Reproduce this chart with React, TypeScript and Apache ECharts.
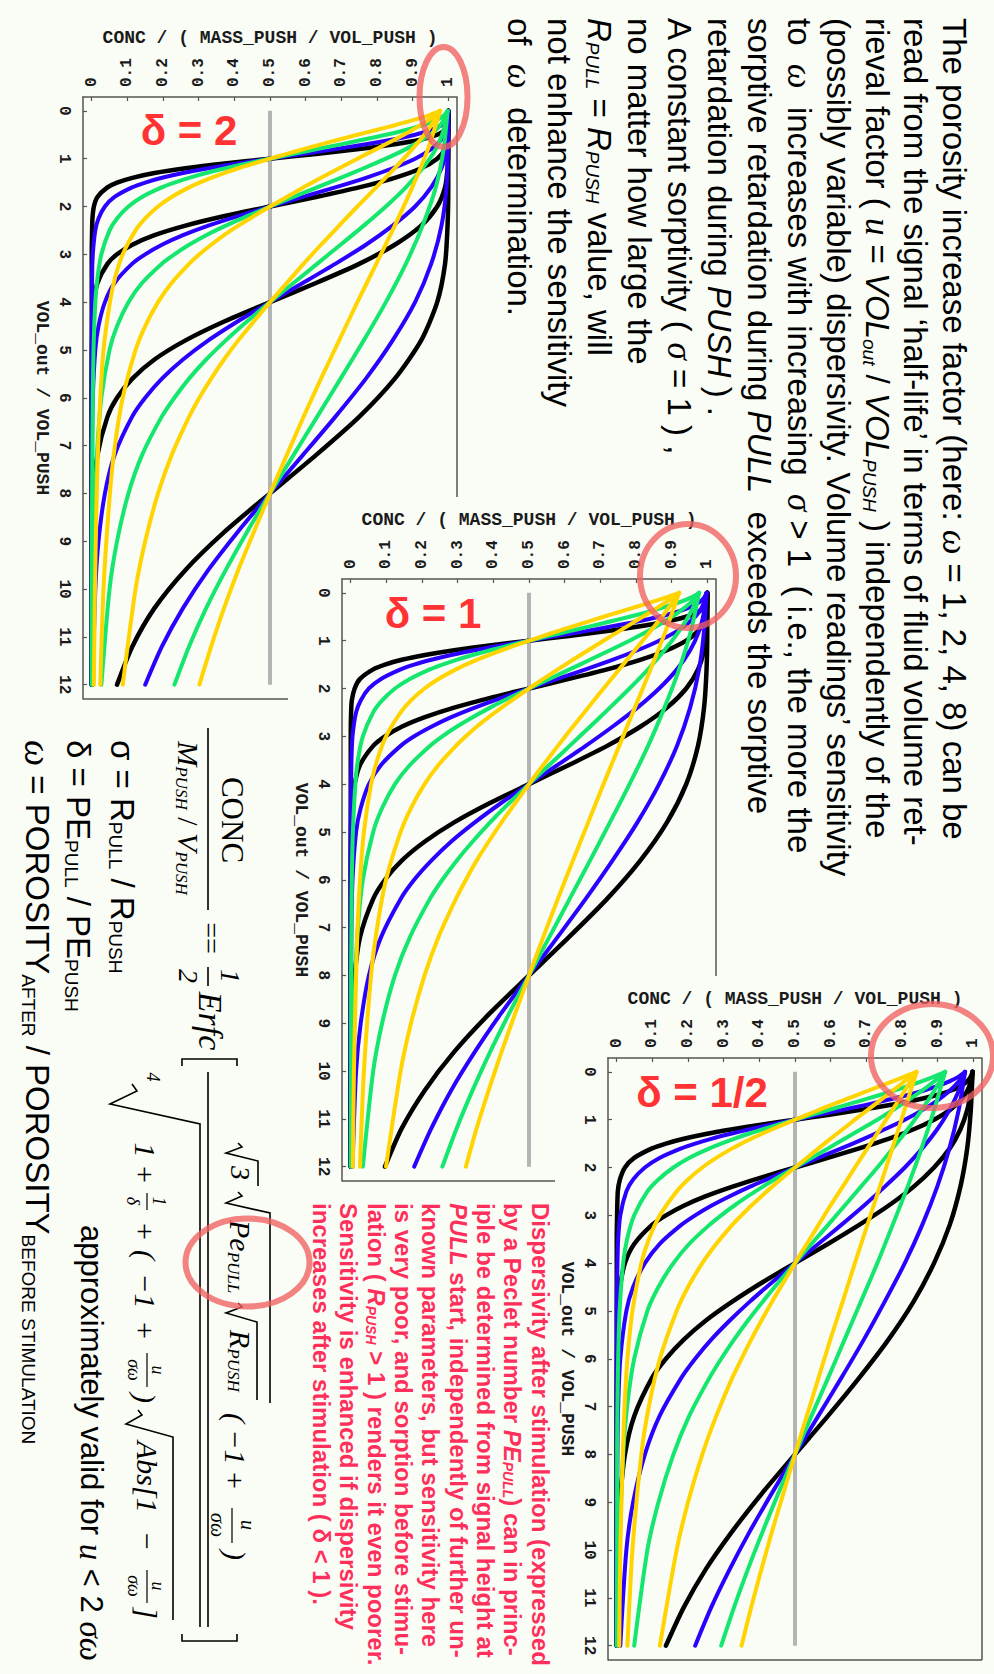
import React, { useEffect, useRef } from 'react';
import * as echarts from 'echarts';

const SANS = "'Liberation Sans', Arial, sans-serif";
const SERIF = "'Liberation Serif', 'Times New Roman', serif";
const MONO = "'Liberation Mono', 'Courier New', monospace";
const BG = '#fafcf6';
const RED = '#ff2f5b';

// ---------- tick labels ----------
const CONC_TICKS = [0, 0.1, 0.2, 0.3, 0.4, 0.5, 0.6, 0.7, 0.8, 0.9, 1];
const VOL_TICKS = [0, 1, 2, 3, 4, 5, 6, 7, 8, 9, 10, 11, 12];

// ---------- VOL_out / VOL_PUSH sample positions of each omega family (omega = 1, 2, 4, 8) ----------
const U_W1 = [0, 0.1, 0.2, 0.3, 0.4, 0.5, 0.6, 0.7, 0.8, 0.9, 1, 1.1, 1.2, 1.3, 1.4, 1.5, 1.6, 1.8, 2, 2.25, 2.5, 3, 3.5, 4, 5, 6, 7, 8, 10, 12];
const U_W2 = [0, 0.2, 0.4, 0.6, 0.8, 1, 1.2, 1.4, 1.6, 1.8, 2, 2.2, 2.4, 2.6, 2.8, 3, 3.2, 3.6, 4, 4.5, 5, 6, 7, 8, 10, 12];
const U_W4 = [0, 0.4, 0.8, 1.2, 1.6, 2, 2.4, 2.8, 3.2, 3.6, 4, 4.4, 4.8, 5.2, 5.6, 6, 6.4, 7.2, 8, 9, 10, 12];
const U_W8 = [0, 0.8, 1.6, 2.4, 3.2, 4, 4.8, 5.6, 6.4, 7.2, 8, 8.8, 9.6, 10.4, 11.2, 12];

// ---------- CONC / (MASS_PUSH / VOL_PUSH) read along each family's samples ----------
// delta = 2
const D2_BLACK = [1.000, 1.000, 1.000, 0.998, 0.991, 0.969, 0.924, 0.850, 0.750, 0.629, 0.500, 0.373, 0.263, 0.176, 0.114, 0.071, 0.044, 0.016, 0.006, 0.002, 0.001, 0, 0, 0, 0, 0, 0, 0, 0, 0];
const D2_BLUE = [1.000, 0.999, 0.995, 0.981, 0.952, 0.907, 0.844, 0.769, 0.683, 0.592, 0.500, 0.410, 0.327, 0.256, 0.197, 0.150, 0.113, 0.064, 0.037, 0.019, 0.010, 0.003, 0.001, 0.001, 0, 0, 0, 0, 0, 0];
const D2_GREEN = [0.998, 0.987, 0.965, 0.928, 0.881, 0.825, 0.763, 0.698, 0.632, 0.566, 0.500, 0.436, 0.376, 0.321, 0.273, 0.232, 0.196, 0.141, 0.103, 0.071, 0.050, 0.027, 0.016, 0.010, 0.005, 0.003, 0.002, 0.001, 0, 0];
const D2_YELLOW = [0.977, 0.943, 0.899, 0.850, 0.798, 0.745, 0.694, 0.643, 0.594, 0.547, 0.500, 0.455, 0.411, 0.371, 0.335, 0.302, 0.273, 0.224, 0.186, 0.150, 0.123, 0.087, 0.065, 0.051, 0.033, 0.024, 0.018, 0.014, 0.009, 0.006];
// delta = 1
const D1_BLACK = [1.000, 1.000, 0.998, 0.991, 0.974, 0.941, 0.887, 0.812, 0.719, 0.612, 0.500, 0.389, 0.290, 0.208, 0.143, 0.096, 0.063, 0.026, 0.011, 0.003, 0.001, 0, 0, 0, 0, 0, 0, 0, 0, 0];
const D1_BLUE = [0.998, 0.991, 0.977, 0.952, 0.915, 0.865, 0.804, 0.734, 0.659, 0.580, 0.500, 0.421, 0.348, 0.282, 0.226, 0.178, 0.140, 0.085, 0.051, 0.028, 0.015, 0.005, 0.002, 0.001, 0, 0, 0, 0, 0, 0];
const D1_GREEN = [0.977, 0.954, 0.921, 0.880, 0.834, 0.782, 0.727, 0.671, 0.614, 0.557, 0.500, 0.444, 0.391, 0.342, 0.297, 0.257, 0.222, 0.166, 0.124, 0.088, 0.063, 0.034, 0.020, 0.013, 0.006, 0.003, 0.002, 0.001, 0.001, 0];
const D1_YELLOW = [0.921, 0.883, 0.841, 0.797, 0.753, 0.709, 0.666, 0.623, 0.581, 0.540, 0.500, 0.461, 0.423, 0.387, 0.353, 0.323, 0.295, 0.246, 0.207, 0.169, 0.140, 0.099, 0.074, 0.057, 0.037, 0.026, 0.019, 0.015, 0.009, 0.006];
// delta = 1/2
const DH_BLACK = [0.998, 0.993, 0.983, 0.964, 0.934, 0.890, 0.833, 0.762, 0.680, 0.592, 0.500, 0.409, 0.325, 0.250, 0.188, 0.138, 0.099, 0.049, 0.023, 0.009, 0.003, 0.001, 0, 0, 0, 0, 0, 0, 0, 0];
const DH_BLUE = [0.977, 0.959, 0.933, 0.899, 0.857, 0.808, 0.752, 0.693, 0.630, 0.565, 0.500, 0.436, 0.374, 0.317, 0.265, 0.220, 0.181, 0.120, 0.079, 0.046, 0.027, 0.010, 0.004, 0.002, 0, 0, 0, 0, 0, 0];
const DH_GREEN = [0.921, 0.890, 0.855, 0.816, 0.774, 0.731, 0.685, 0.639, 0.593, 0.546, 0.500, 0.454, 0.410, 0.368, 0.329, 0.293, 0.260, 0.203, 0.159, 0.117, 0.086, 0.049, 0.029, 0.018, 0.008, 0.004, 0.002, 0.001, 0.001, 0];
const DH_YELLOW = [0.841, 0.807, 0.773, 0.738, 0.703, 0.668, 0.634, 0.599, 0.566, 0.533, 0.500, 0.468, 0.436, 0.406, 0.377, 0.350, 0.324, 0.279, 0.240, 0.200, 0.168, 0.121, 0.090, 0.069, 0.044, 0.030, 0.022, 0.017, 0.010, 0.007];

const HALF_LINE = [[0.5, 0], [0.5, 12]];

const COLOR_LIST = ['#000000', '#2a00ff', '#14e66e', '#ffd400'];
const FAMILIES = [U_W1, U_W2, U_W4, U_W8];

// ---------- layout ----------
const BOX_W = 374;
const BOX_H = 602;
const PANELS = [
  { left: 83, top: 97, label: 'δ = 2', lx: 189, ly: 130, values: [D2_BLACK, D2_BLUE, D2_GREEN, D2_YELLOW] },
  { left: 342, top: 579, label: 'δ = 1', lx: 433, ly: 613, values: [D1_BLACK, D1_BLUE, D1_GREEN, D1_YELLOW] },
  { left: 608, top: 1058, label: 'δ = 1/2', lx: 702, ly: 1092, values: [DH_BLACK, DH_BLUE, DH_GREEN, DH_YELLOW] },
];

function txt(x: number, y: number, text: string, size: number, o: any = {}) {
  const align = o.align || 'left';
  return {
    type: 'text', x, y, z: 60, silent: true,
    style: {
      text,
      fill: o.fill || '#000',
      fontSize: size,
      fontFamily: o.family || SANS,
      fontStyle: o.italic ? 'italic' : 'normal',
      fontWeight: o.bold ? 'bold' : 'normal',
      align, textAlign: align,
      verticalAlign: 'middle', textVerticalAlign: 'middle',
      rich: o.rich,
    },
  };
}
function seg(x1: number, y1: number, x2: number, y2: number, w = 1.6, color = '#000') {
  return { type: 'line', z: 60, silent: true, shape: { x1, y1, x2, y2 }, style: { stroke: color, lineWidth: w } };
}
function poly(points: number[][], w = 1.6) {
  return { type: 'polyline', z: 60, silent: true, shape: { points }, style: { stroke: '#000', lineWidth: w, fill: null } };
}

function rotatedChildren() {
  const c: any[] = [];
  // paragraph
  const rp = {
    w: { fontFamily: SERIF, fontStyle: 'italic', fontSize: 35, fill: '#000', color: '#000' },
    i: { fontFamily: SANS, fontStyle: 'italic', fontSize: 33, fill: '#000', color: '#000' },
    s: { fontFamily: SANS, fontStyle: 'italic', fontSize: 19, fill: '#000', color: '#000', verticalAlign: 'bottom' },
  };
  const para = [
    'The porosity increase factor (here: {w|ω} = 1, 2, 4, 8) can be',
    'read from the signal ‘half-life’ in terms of fluid volume ret-',
    'rieval factor ( {w|u} = {i|VOL}{s|out} / {i|VOL}{s|PUSH} ) independently of the',
    '(possibly variable) dispersivity. Volume readings’ sensitivity',
    'to  {w|ω}  increases with increasing  {w|σ} > 1  ( i.e., the more the',
    'sorptive retardation during {i|PULL}  exceeds the sorptive',
    'retardation during {i|PUSH} ) .',
    'A constant sorptivity ( {w|σ} = 1 ) ,',
    'no matter how large the',
    '{i|R}{s|PULL} = {i|R}{s|PUSH} value, will',
    'not enhance the sensitivity',
    'of  {w|ω}  determination.',
  ];
  const paraY = [40, 79, 117, 156, 195, 235, 275, 315, 355, 395, 435, 475];
  para.forEach((t, k) => c.push(txt(18, paraY[k], t, 33, { rich: rp })));

  // red note
  const rr = {
    bi: { fontFamily: SANS, fontWeight: 'bold', fontStyle: 'italic', fontSize: 24, fill: RED, color: RED },
    bs: { fontFamily: SANS, fontWeight: 'bold', fontStyle: 'italic', fontSize: 14, fill: RED, color: RED, verticalAlign: 'bottom' },
  };
  const red = [
    'Dispersivity after stimulation (expressed',
    'by a Peclet number {bi|PE}{bs|PULL}) can in princ-',
    'iple be determined from signal height at',
    '{bi|PULL} start, independently of further un-',
    'known parameters, but sensitivity here',
    'is very poor, and sorption before stimu-',
    'lation ( {bi|R}{bs|PUSH} > 1 ) renders it even poorer.',
    'Sensitivity is enhanced if dispersivity',
    'increases after stimulation ( δ < 1 ).',
  ];
  red.forEach((t, k) => c.push(txt(1203, 454 + 27.3 * k, t, 24, { bold: true, fill: RED, rich: rr })));

  // definitions
  const rd = {
    s: { fontFamily: SANS, fontSize: 19, fill: '#000', color: '#000', verticalAlign: 'bottom' },
    w: { fontFamily: SERIF, fontStyle: 'italic', fontSize: 37, fill: '#000', color: '#000' },
  };
  c.push(txt(740, 872, 'σ = R{s|PULL} / R{s|PUSH}', 33, { rich: rd }));
  c.push(txt(740, 916, 'δ = PE{s|PULL} / PE{s|PUSH}', 33, { rich: rd }));
  c.push(txt(740, 957, '{w|ω} = POROSITY{s|AFTER} / POROSITY{s|BEFORE STIMULATION}', 33, { rich: rd }));
  c.push(txt(1225, 903, 'approximately valid for {w|u} < 2 {w|σω}', 31, {
    rich: { w: { fontFamily: SERIF, fontStyle: 'italic', fontSize: 33, fill: '#000', color: '#000' } },
  }));

  // formula
  const F = { family: SERIF, italic: true, align: 'center' };
  const rf = {
    m: { fontFamily: SERIF, fontStyle: 'italic', fontSize: 30, fill: '#000', color: '#000' },
    n: { fontFamily: SERIF, fontSize: 30, fill: '#000', color: '#000' },
    s: { fontFamily: SERIF, fontStyle: 'italic', fontSize: 17, fill: '#000', color: '#000', verticalAlign: 'bottom' },
  };
  c.push(txt(820, 762, 'CONC', 31, { family: SERIF, align: 'center' }));
  c.push(seg(728, 786, 910, 786));
  c.push(txt(818, 806, '{m|M}{s|PUSH}{n| / }{m|V}{s|PUSH}', 30, { family: SERIF, align: 'center', rich: rf }));
  c.push(txt(938, 783, '==', 28, { family: SERIF, align: 'center' }));
  c.push(txt(976, 764, '1', 28, F));
  c.push(seg(967, 786, 986, 786));
  c.push(txt(976, 806, '2', 28, F));
  c.push(txt(1021, 784, 'Erfc', 34, F));
  c.push(poly([[1066, 757], [1059, 757], [1059, 812], [1066, 812]]));
  c.push(seg(1072, 786, 1627, 786));
  // numerator
  c.push(poly([[1143, 756], [1147, 752], [1153, 768], [1161, 736], [1186, 736]]));
  c.push(txt(1173, 754, '3', 28, F));
  c.push(poly([[1192, 756], [1196, 752], [1203, 768], [1213, 724], [1403, 724]]));
  c.push(txt(1220, 754, '{m|Pe}{s|PULL}', 30, { family: SERIF, italic: true, rich: rf }));
  c.push(poly([[1303, 756], [1307, 752], [1313, 768], [1322, 737], [1400, 737]]));
  c.push(txt(1330, 754, '{m|R}{s|PUSH}', 30, { family: SERIF, italic: true, rich: rf }));
  c.push(txt(1418, 759, '(', 30, F));
  c.push(txt(1447, 759, '−1', 30, F));
  c.push(txt(1480, 759, '+', 30, F));
  c.push(txt(1525, 746, 'u', 20, F));
  c.push(seg(1508, 762, 1543, 762, 1.2));
  c.push(txt(1525, 776, 'σω', 20, F));
  c.push(txt(1555, 759, ')', 30, F));
  // denominator
  c.push(txt(1077, 841, '4', 18, F));
  c.push(poly([[1084, 862], [1091, 857], [1104, 884], [1124, 794], [1627, 794]]));
  c.push(txt(1150, 849, '1', 30, F));
  c.push(txt(1174, 849, '+', 30, F));
  c.push(txt(1201, 835, '1', 18, F));
  c.push(seg(1193, 847, 1210, 847, 1.2));
  c.push(txt(1201, 861, 'δ', 18, F));
  c.push(txt(1231, 849, '+', 30, F));
  c.push(txt(1255, 849, '(', 30, F));
  c.push(txt(1291, 849, '−1', 30, F));
  c.push(txt(1330, 849, '+', 30, F));
  c.push(txt(1370, 836, 'u', 18, F));
  c.push(seg(1353, 847, 1387, 847, 1.2));
  c.push(txt(1370, 860, 'σω', 18, F));
  c.push(txt(1398, 849, ')', 30, F));
  c.push(poly([[1410, 856], [1415, 852], [1424, 868], [1437, 821], [1620, 821]]));
  c.push(txt(1441, 847, 'Abs[1', 30, { family: SERIF, italic: true }));
  c.push(txt(1541, 847, '−', 30, F));
  c.push(txt(1586, 836, 'u', 18, F));
  c.push(seg(1570, 847, 1603, 847, 1.2));
  c.push(txt(1586, 860, 'σω', 18, F));
  c.push(txt(1613, 847, ']', 30, F));
  c.push(poly([[1634, 757], [1641, 757], [1641, 812], [1634, 812]]));
  return c;
}

function buildOption() {
  const grid: any[] = [];
  const xAxis: any[] = [];
  const yAxis: any[] = [];
  const series: any[] = [];
  const axisText = { fontFamily: MONO, fontSize: 16, fontWeight: 'bold', color: '#1a1a1a' };
  const nameText = { fontFamily: MONO, fontSize: 18, fontWeight: 'bold', color: '#1a1a1a' };

  PANELS.forEach((p, i) => {
    grid.push({ left: p.left, top: p.top, width: BOX_W, height: BOX_H, show: false, containLabel: false });
    xAxis.push({
      gridIndex: i, type: 'value', position: 'top', min: -0.0245, max: 1.0245,
      axisLine: { show: true, onZero: false, lineStyle: { color: '#555', width: 1.5 } },
      axisTick: { show: true, inside: true, length: 4, customValues: CONC_TICKS, lineStyle: { color: '#555', width: 1.2 } },
      axisLabel: { customValues: CONC_TICKS, rotate: -90, margin: 10, ...axisText },
      splitLine: { show: false },
      name: 'CONC / ( MASS_PUSH / VOL_PUSH )', nameLocation: 'middle', nameGap: 50, nameTextStyle: nameText,
    });
    yAxis.push({
      gridIndex: i, type: 'value', position: 'left', inverse: true, min: -0.29, max: 12.3,
      axisLine: { show: true, onZero: false, lineStyle: { color: '#555', width: 1.5 } },
      axisTick: { show: true, inside: true, length: 4, customValues: VOL_TICKS, lineStyle: { color: '#555', width: 1.2 } },
      axisLabel: { customValues: VOL_TICKS, rotate: -90, margin: 11, ...axisText },
      splitLine: { show: false },
      name: 'VOL_out / VOL_PUSH', nameLocation: 'middle', nameRotate: -90, nameGap: 32, nameTextStyle: nameText,
    });
    series.push({
      type: 'line', xAxisIndex: i, yAxisIndex: i, data: HALF_LINE, symbol: 'none', silent: true, z: 2,
      lineStyle: { color: '#b4b4b4', width: 4 },
    });
    p.values.forEach((vals, k) => {
      FAMILIES.forEach((us) => {
        series.push({
          type: 'line', xAxisIndex: i, yAxisIndex: i, symbol: 'none', silent: true, z: 3,
          smooth: 0.25,
          data: us.map((u, j) => [vals[j], u]),
          lineStyle: { color: COLOR_LIST[k], width: k === 0 ? 4.5 : 4, join: 'round', cap: 'round' },
        });
      });
    });
  });

  const frame = { stroke: '#555', lineWidth: 1.5 };
  const ring = { fill: null, stroke: 'rgba(240,96,96,0.78)', lineWidth: 6 };
  const graphic: any[] = [
    // partial frame edges (later panels overlap earlier ones)
    { type: 'line', z: 5, shape: { x1: 457, y1: 97, x2: 457, y2: 497 }, style: frame },
    { type: 'line', z: 5, shape: { x1: 83, y1: 699, x2: 288, y2: 699 }, style: frame },
    { type: 'line', z: 5, shape: { x1: 716, y1: 579, x2: 716, y2: 976 }, style: frame },
    { type: 'line', z: 5, shape: { x1: 342, y1: 1181, x2: 555, y2: 1181 }, style: frame },
    { type: 'line', z: 5, shape: { x1: 982, y1: 1058, x2: 982, y2: 1660 }, style: frame },
    { type: 'line', z: 5, shape: { x1: 608, y1: 1660, x2: 982, y2: 1660 }, style: frame },
    { type: 'group', x: 994, y: 0, rotation: -Math.PI / 2, children: rotatedChildren() },
  ];
  PANELS.forEach((p) => {
    graphic.push({
      type: 'text', x: p.lx, y: p.ly, z: 70, silent: true,
      style: {
        text: p.label, fill: '#ff3333', fontSize: 42, fontWeight: 'bold', fontFamily: SANS,
        align: 'center', textAlign: 'center', verticalAlign: 'middle', textVerticalAlign: 'middle',
      },
    });
  });
  graphic.push(
    { type: 'ellipse', z: 100, silent: true, shape: { cx: 443.5, cy: 97, rx: 24, ry: 50 }, style: ring },
    { type: 'ellipse', z: 100, silent: true, shape: { cx: 688, cy: 576, rx: 48, ry: 52 }, style: ring },
    { type: 'ellipse', z: 100, silent: true, shape: { cx: 932, cy: 1056, rx: 61, ry: 52 }, style: ring },
    { type: 'ellipse', z: 100, silent: true, shape: { cx: 247.5, cy: 1262.5, rx: 62, ry: 44 }, style: ring },
  );

  return {
    animation: false,
    backgroundColor: BG,
    textStyle: { fontFamily: SANS },
    grid, xAxis, yAxis, series, graphic,
  };
}

export default function App() {
  const ref = useRef<HTMLDivElement>(null);
  useEffect(() => {
    document.body.style.margin = '0';
    const chart = echarts.init(ref.current as HTMLDivElement, null, { renderer: 'svg' });
    chart.setOption(buildOption() as any);
    return () => chart.dispose();
  }, []);
  return (
    <div
      ref={ref}
      style={{ position: 'absolute', left: 0, top: 0, width: 994, height: 1674, background: BG }}
    />
  );
}
